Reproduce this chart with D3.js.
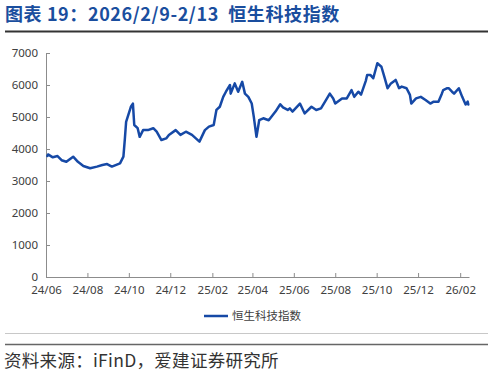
<!DOCTYPE html>
<html>
<head>
<meta charset="utf-8">
<script src="https://cdn.jsdelivr.net/npm/d3@7"></script>
<style>
  body { margin: 0; background: #fff; }
  svg { display: block; font-family: "Noto Sans", "Noto Sans CJK SC", sans-serif; }
</style>
</head>
<body>
<div class="chart"></div>
<script>
var svgWidth = 494;
var svgHeight = 376;

var margin = { top: 53, right: 25, bottom: 99, left: 46 };
var width = svgWidth - margin.left - margin.right;
var height = svgHeight - margin.top - margin.bottom;

// data
var dates = [
  "2024-06-03", "2024-06-04", "2024-06-11", "2024-06-18", "2024-06-24", "2024-07-01",
  "2024-07-11", "2024-07-18", "2024-07-26", "2024-08-05", "2024-08-15", "2024-08-23",
  "2024-08-30", "2024-09-06", "2024-09-18", "2024-09-23", "2024-09-25", "2024-09-27",
  "2024-10-04", "2024-10-07", "2024-10-09", "2024-10-14", "2024-10-17", "2024-10-22",
  "2024-10-29", "2024-11-06", "2024-11-11", "2024-11-18", "2024-11-25", "2024-11-29",
  "2024-12-09", "2024-12-16", "2024-12-24", "2025-01-02", "2025-01-13", "2025-01-21",
  "2025-01-27", "2025-02-03", "2025-02-07", "2025-02-12", "2025-02-17", "2025-02-21",
  "2025-02-27", "2025-02-28", "2025-03-06", "2025-03-11", "2025-03-17", "2025-03-21",
  "2025-03-26", "2025-03-31", "2025-04-03", "2025-04-07", "2025-04-11", "2025-04-17",
  "2025-04-25", "2025-05-05", "2025-05-12", "2025-05-16", "2025-05-23", "2025-05-26",
  "2025-05-30", "2025-06-10", "2025-06-17", "2025-06-27", "2025-07-04", "2025-07-11",
  "2025-07-17", "2025-07-24", "2025-07-29", "2025-08-01", "2025-08-11", "2025-08-18",
  "2025-08-25", "2025-08-29", "2025-09-04", "2025-09-08", "2025-09-15", "2025-09-17",
  "2025-09-22", "2025-09-26", "2025-10-02", "2025-10-08", "2025-10-13", "2025-10-17",
  "2025-10-22", "2025-10-29", "2025-11-03", "2025-11-07", "2025-11-14", "2025-11-19",
  "2025-11-21", "2025-11-28", "2025-12-05", "2025-12-12", "2025-12-19", "2025-12-24",
  "2025-12-31", "2026-01-05", "2026-01-07", "2026-01-13", "2026-01-15", "2026-01-20",
  "2026-01-23", "2026-01-30", "2026-02-04", "2026-02-09", "2026-02-12", "2026-02-13"
];
var values = [
  3780, 3830, 3740, 3780, 3650, 3600,
  3760, 3600, 3470, 3400, 3450, 3500,
  3530, 3450, 3550, 3760, 4280, 4850,
  5320, 5420, 4750, 4650, 4380, 4590,
  4590, 4650, 4540, 4280, 4330, 4440,
  4590, 4440, 4540, 4440, 4230, 4590,
  4700, 4750, 5220, 5320, 5630, 5790,
  6000, 5730, 6050, 5790, 6100, 5730,
  5630, 5420, 5010, 4380, 4900, 4960,
  4900, 5170, 5400, 5300, 5220, 5270,
  5170, 5420, 5110, 5320, 5220, 5270,
  5480, 5730, 5580, 5420, 5580, 5580,
  5840, 5630, 5790, 5700, 6130, 6310,
  6310, 6210, 6680, 6570, 6210, 5900,
  6050, 6160, 5900, 5950, 5900, 5690,
  5420, 5580, 5630, 5530, 5420, 5480,
  5480, 5730, 5840, 5900, 5900, 5790,
  5730, 5900, 5630, 5390, 5480, 5390
];
var yTicks = [0, 1000, 2000, 3000, 4000, 5000, 6000, 7000];
var xTicks = ["2024-06-01", "2024-08-01", "2024-10-01", "2024-12-01", "2025-02-01", "2025-04-01",
  "2025-06-01", "2025-08-01", "2025-10-01", "2025-12-01", "2026-02-01"];
var seriesName = "恒生科技指数";
var titleText = "图表 19：2026/2/9-2/13\u00a0\u00a0恒生科技指数";
var sourceText = "资料来源：iFinD，爱建证券研究所";

var parseDate = d3.timeParse("%Y-%m-%d");
var lineData = dates.map(function(d, i) {
  return { date: parseDate(d), value: values[i] };
});

var svg = d3.select(".chart")
  .append("svg")
  .attr("width", svgWidth)
  .attr("height", svgHeight);

// title
svg.append("text")
  .attr("x", 5)
  .attr("y", 21)
  .attr("font-family", "'Noto Sans CJK SC', sans-serif")
  .attr("font-weight", "bold")
  .attr("font-size", 18)
  .attr("letter-spacing", 0.6)
  .attr("fill", "#1a4e9e")
  .text(titleText);

svg.append("line")
  .attr("x1", 5).attr("x2", 488)
  .attr("y1", 31.5).attr("y2", 31.5)
  .attr("stroke", "#333")
  .attr("stroke-width", 2);

var chartGroup = svg.append("g")
  .attr("transform", `translate(${margin.left}, ${margin.top})`);

var xTimeScale = d3.scaleTime()
  .domain([parseDate("2024-06-01"), parseDate("2026-02-14")])
  .range([0, width]);

var yLinearScale = d3.scaleLinear()
  .domain([0, 7000])
  .range([height, 0]);

var bottomAxis = d3.axisBottom(xTimeScale)
  .tickValues(xTicks.map(parseDate))
  .tickFormat(d3.timeFormat("%y/%m"))
  .tickSizeInner(-4)
  .tickSizeOuter(0)
  .tickPadding(10);

var leftAxis = d3.axisLeft(yLinearScale)
  .tickValues(yTicks)
  .tickFormat(d3.format("d"))
  .tickSizeInner(-4)
  .tickSizeOuter(0)
  .tickPadding(8);

var xAxisG = chartGroup.append("g")
  .attr("transform", `translate(0, ${height})`)
  .call(bottomAxis);

var yAxisG = chartGroup.append("g")
  .call(leftAxis);

[xAxisG, yAxisG].forEach(function(g) {
  g.select(".domain").attr("stroke", "#8c8c8c");
  g.selectAll(".tick line").attr("stroke", "#8c8c8c");
  g.selectAll(".tick text")
    .attr("fill", "#404040")
    .attr("font-size", 11.5)
    .attr("font-family", "'Noto Sans', sans-serif");
});
xAxisG.selectAll(".tick text").attr("dy", "0.6em");
yAxisG.selectAll(".tick text").attr("dy", "0.28em");

var drawLine = d3.line()
  .x(d => xTimeScale(d.date))
  .y(d => yLinearScale(d.value));

chartGroup.append("path")
  .attr("d", drawLine(lineData))
  .attr("fill", "none")
  .attr("stroke", "#1649a6")
  .attr("stroke-linejoin", "round")
  .attr("stroke-linecap", "round")
  .attr("stroke-width", 2.5);

// legend
var legend = svg.append("g")
  .attr("transform", "translate(204, 316)");

legend.append("line")
  .attr("x1", 0).attr("x2", 24)
  .attr("stroke", "#1649a6")
  .attr("stroke-width", 2.5);

legend.append("text")
  .attr("x", 28)
  .attr("y", 4)
  .attr("font-size", 11.5)
  .attr("fill", "#404040")
  .attr("font-family", "'Noto Sans CJK SC', sans-serif")
  .text(seriesName);

// separators and source
svg.append("line")
  .attr("x1", 5).attr("x2", 488)
  .attr("y1", 333.5).attr("y2", 333.5)
  .attr("stroke", "#c8c8c8")
  .attr("stroke-width", 1);

svg.append("line")
  .attr("x1", 5).attr("x2", 488)
  .attr("y1", 344.5).attr("y2", 344.5)
  .attr("stroke", "#666")
  .attr("stroke-width", 1.5);

svg.append("text")
  .attr("x", 4)
  .attr("y", 367)
  .attr("font-size", 17.5)
  .attr("letter-spacing", 0.3)
  .attr("fill", "#333")
  .attr("font-family", "'Noto Sans CJK SC', sans-serif")
  .text(sourceText);
</script>
</body>
</html>
